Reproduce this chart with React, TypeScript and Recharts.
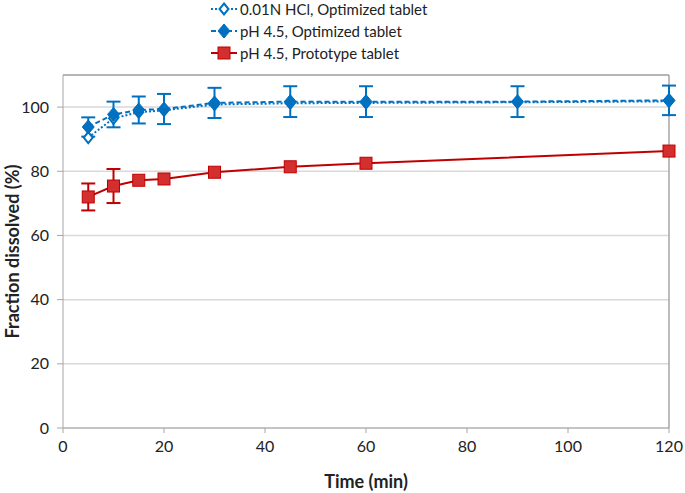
import React from "react";
import {
  LineChart,
  Line,
  XAxis,
  YAxis,
  CartesianGrid,
  ErrorBar,
  Legend,
  ReferenceLine,
} from "recharts";

const times = [5, 10, 15, 20, 30, 45, 60, 90, 120];
const hclOptimized = [90.5, 96.5, 98.4, 99.0, 100.8, 101.2, 101.3, 101.5, 101.8];
const ph45Optimized = [93.8, 97.7, 99.1, 99.4, 101.3, 101.7, 101.7, 101.7, 102.1];
const ph45OptimizedErr = [3, 4, 4.2, 4.7, 4.7, 4.8, 4.8, 4.8, 4.6];
const ph45Prototype = [72.0, 75.4, 77.2, 77.6, 79.7, 81.4, 82.5, null, 86.3];
const ph45PrototypeErr = [4.2, 5.3, 0, 0, 0, 0, 0, null, 0];
const xTicks = [0, 20, 40, 60, 80, 100, 120];
const yTicks = [0, 20, 40, 60, 80, 100];

const BLUE = "#0070C0";
const RED = "#C00000";
const RED_FILL = "#D32F2F";
const FONT = "Lato, 'Open Sans', sans-serif";

const data = times.map((t, i) => ({
  time: t,
  hcl: hclOptimized[i],
  opt: ph45Optimized[i],
  optErr: ph45OptimizedErr[i],
  proto: ph45Prototype[i],
  protoErr: ph45PrototypeErr[i],
}));

const legendItems = [
  { label: "0.01N HCl, Optimized tablet", color: BLUE, dash: "2 2", marker: "open" },
  { label: "pH 4.5, Optimized tablet", color: BLUE, dash: "5 3", marker: "diamond" },
  { label: "pH 4.5, Prototype tablet", color: RED, dash: undefined, marker: "square" },
];

function Marker({ x, y, kind, color }: { x: number; y: number; kind: string; color: string }) {
  if (kind === "square") {
    return <rect x={x - 6} y={y - 6} width={12} height={12} fill={RED_FILL} stroke={RED} strokeWidth={1} />;
  }
  const pts = `${x},${y - 7} ${x + 6},${y} ${x},${y + 7} ${x - 6},${y}`;
  if (kind === "open") {
    const p2 = `${x},${y - 5.5} ${x + 4.5},${y} ${x},${y + 5.5} ${x - 4.5},${y}`;
    return <polygon points={p2} fill="#fff" stroke={color} strokeWidth={2} />;
  }
  return <polygon points={pts} fill={color} stroke={color} strokeWidth={1} />;
}

const makeDot = (kind: string, color: string) => (props: any) => {
  const { cx, cy, index, value } = props;
  if (cx == null || cy == null || value == null) return <g key={`${kind}-${index}`} />;
  return <Marker key={`${kind}-${index}`} x={cx} y={cy} kind={kind} color={color} />;
};

function renderLegend() {
  return (
    <div style={{ fontFamily: FONT, fontSize: 15, color: "#222" }}>
      {legendItems.map((item) => (
        <div key={item.label} style={{ display: "flex", alignItems: "center", height: 22 }}>
          <svg width={28} height={16} style={{ marginRight: 2 }}>
            <line x1={1} y1={8} x2={27} y2={8} stroke={item.color} strokeWidth={2} strokeDasharray={item.dash} />
            <Marker x={14} y={8} kind={item.marker} color={item.color} />
          </svg>
          <span>{item.label}</span>
        </div>
      ))}
    </div>
  );
}

export default function App() {
  return (
    <div style={{ position: "absolute", top: 0, left: 0, background: "#fff" }}>
      <LineChart width={685} height={493} data={data} margin={{ top: 75, right: 16, left: 0, bottom: 0 }}>
        <CartesianGrid vertical={false} stroke="#d9d9d9" strokeWidth={1.5} />
        <XAxis
          dataKey="time"
          type="number"
          domain={[0, 120]}
          ticks={xTicks}
          height={65}
          stroke="#a6a6a6"
          tickSize={5}
          tick={{ fill: "#222", fontSize: 16, fontFamily: FONT, dy: 6 }}
          label={{
            value: "Time (min)",
            position: "insideBottom",
            offset: 5,
            style: { fill: "#222", fontSize: 18, fontWeight: 700, fontFamily: FONT },
          }}
        />
        <YAxis
          type="number"
          domain={[0, 110]}
          ticks={yTicks}
          width={63}
          stroke="#a6a6a6"
          tickSize={6}
          tick={{ fill: "#222", fontSize: 16, fontFamily: FONT, dx: -6 }}
          label={{
            value: "Fraction dissolved (%)",
            angle: -90,
            position: "insideLeft",
            offset: 13,
            style: { textAnchor: "middle", fill: "#222", fontSize: 18, fontWeight: 700, fontFamily: FONT },
          }}
        />
        <ReferenceLine y={110} stroke="#a6a6a6" strokeWidth={1.5} />
        <ReferenceLine x={120} stroke="#a6a6a6" strokeWidth={1.5} />
        <Legend
          verticalAlign="middle"
          align="center"
          layout="horizontal"
          content={renderLegend}
          wrapperStyle={{ top: -2, left: 210, width: 270 }}
        />
        <Line
          dataKey="hcl"
          stroke={BLUE}
          strokeWidth={2}
          strokeDasharray="2 2"
          dot={makeDot("open", BLUE)}
          isAnimationActive={false}
        />
        <Line
          dataKey="opt"
          stroke={BLUE}
          strokeWidth={2}
          strokeDasharray="5 3"
          dot={makeDot("diamond", BLUE)}
          isAnimationActive={false}
        >
          <ErrorBar dataKey="optErr" direction="y" width={7} stroke={BLUE} strokeWidth={2} />
        </Line>
        <Line
          dataKey="proto"
          stroke={RED}
          strokeWidth={2}
          connectNulls
          dot={makeDot("square", RED)}
          isAnimationActive={false}
        >
          <ErrorBar dataKey="protoErr" direction="y" width={7} stroke={RED} strokeWidth={2} />
        </Line>
      </LineChart>
    </div>
  );
}
